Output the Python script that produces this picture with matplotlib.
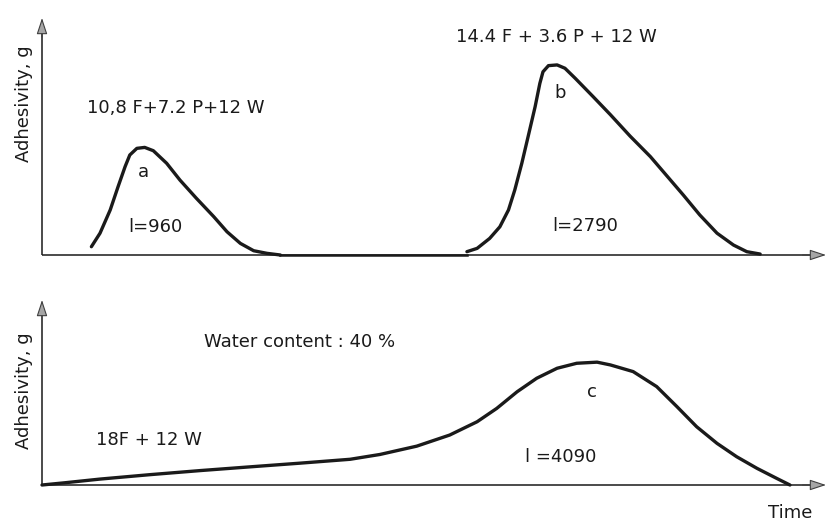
import matplotlib
matplotlib.use('Agg')
import matplotlib.pyplot as plt

# curve a (time, adhesivity), arbitrary units
a_time = [6.3, 7.4, 8.7, 9.7, 10.6, 11.2, 12.1, 13.1, 14.2, 15.9, 17.6, 19.7, 21.9, 23.6, 25.3, 27.0, 28.7, 30.4]
a_adh = [3.5, 9.2, 19.0, 28.8, 37.3, 42.2, 45.0, 45.4, 44.0, 38.7, 31.6, 23.9, 16.2, 9.8, 4.9, 1.8, 0.7, 0.0]

# curve b
b_time = [54.2, 55.5, 57.1, 58.4, 59.5, 60.3, 61.2, 62.0, 62.9, 63.5, 63.9, 64.6, 65.7, 66.7, 68.0,
          70.3, 72.5, 75.0, 77.6, 81.8, 83.9, 86.1, 88.2, 89.9, 91.6]
b_adh = [1.4, 2.8, 7.0, 11.9, 19.0, 27.4, 38.7, 49.9, 62.6, 72.4, 77.3, 79.9, 80.2, 78.8, 74.6,
         66.8, 59.2, 50.2, 41.5, 25.3, 16.9, 9.2, 4.2, 1.4, 0.4]

# curve c (bottom panel)
c_time = [0.0, 2.9, 7.4, 13.8, 20.2, 26.5, 32.9, 39.3, 43.1, 47.8, 52.0, 55.5, 58.0, 60.6, 63.1,
          65.7, 68.2, 70.8, 72.5, 75.4, 78.4, 81.0, 83.5, 86.1, 88.6, 91.2, 93.7, 95.4]
c_adh = [0.0, 1.2, 3.2, 5.6, 7.8, 9.8, 11.8, 13.9, 16.5, 21.0, 27.0, 34.2, 41.4, 50.4, 57.7,
         63.1, 65.8, 66.4, 64.9, 61.3, 53.2, 42.3, 31.5, 22.5, 15.3, 9.0, 3.6, 0.0]

ink = '#1a1a1a'
fs = 13

fig = plt.figure(figsize=(8.26, 5.22), dpi=100)
ax1 = fig.add_axes([42 / 826, (522 - 255) / 522, 784 / 826, 237 / 522])
ax2 = fig.add_axes([42 / 826, (522 - 485) / 522, 784 / 826, 185 / 522])

arr = dict(arrowstyle='-|>,head_length=1.0,head_width=0.33', fc='0.65', ec='0.25', lw=0.8,
           shrinkA=0, shrinkB=0)
for ax in (ax1, ax2):
    ax.set_xlim(0, 100)
    ax.set_ylim(0, 100)
    ax.axis('off')
    # axes drawn as arrows
    ax.plot([0, 98], [0, 0], color=ink, lw=1.1, clip_on=False, solid_capstyle='butt')
    ax.plot([0, 0], [0, 96], color=ink, lw=1.1, clip_on=False, solid_capstyle='butt')
    ax.annotate('', xy=(100, 0), xytext=(97, 0), arrowprops=arr, annotation_clip=False)
    ax.annotate('', xy=(0, 100), xytext=(0, 92), arrowprops=arr, annotation_clip=False)

ax1.text(-2.3, 64.0, 'Adhesivity, g', rotation=90, fontsize=fs, color=ink, ha='center', va='center')
ax2.text(-2.3, 50.8, 'Adhesivity, g', rotation=90, fontsize=fs, color=ink, ha='center', va='center')

# top panel curves
line = dict(color=ink, lw=2.4, clip_on=False, solid_capstyle='round', solid_joinstyle='round')
ax1.plot(a_time, a_adh, **line)
ax1.plot([a_time[-1], b_time[0]], [0, 0], color=ink, lw=1.8, clip_on=False)
ax1.plot(b_time, b_adh, **line)

ax1.text(17.0, 62.2, '10,8 F+7.2 P+12 W', fontsize=fs, color=ink, ha='center', va='center')
ax1.text(12.9, 34.9, 'a', fontsize=fs, color=ink, ha='center', va='center')
ax1.text(14.4, 11.8, 'l=960', fontsize=fs, color=ink, ha='center', va='center')
ax1.text(65.6, 92.0, '14.4 F + 3.6 P + 12 W', fontsize=fs, color=ink, ha='center', va='center')
ax1.text(66.1, 68.5, 'b', fontsize=fs, color=ink, ha='center', va='center')
ax1.text(69.3, 12.2, 'l=2790', fontsize=fs, color=ink, ha='center', va='center')

# bottom panel curve
ax2.plot(c_time, c_adh, **line)

ax2.text(32.8, 77.3, 'Water content : 40 %', fontsize=fs, color=ink, ha='center', va='center')
ax2.text(13.6, 24.3, '18F + 12 W', fontsize=fs, color=ink, ha='center', va='center')
ax2.text(70.2, 50.3, 'c', fontsize=fs, color=ink, ha='center', va='center')
ax2.text(66.2, 15.1, 'l =4090', fontsize=fs, color=ink, ha='center', va='center')
ax2.text(95.4, -15.1, 'Time', fontsize=fs, color=ink, ha='center', va='center')

fig.savefig('out.png', dpi=100)
